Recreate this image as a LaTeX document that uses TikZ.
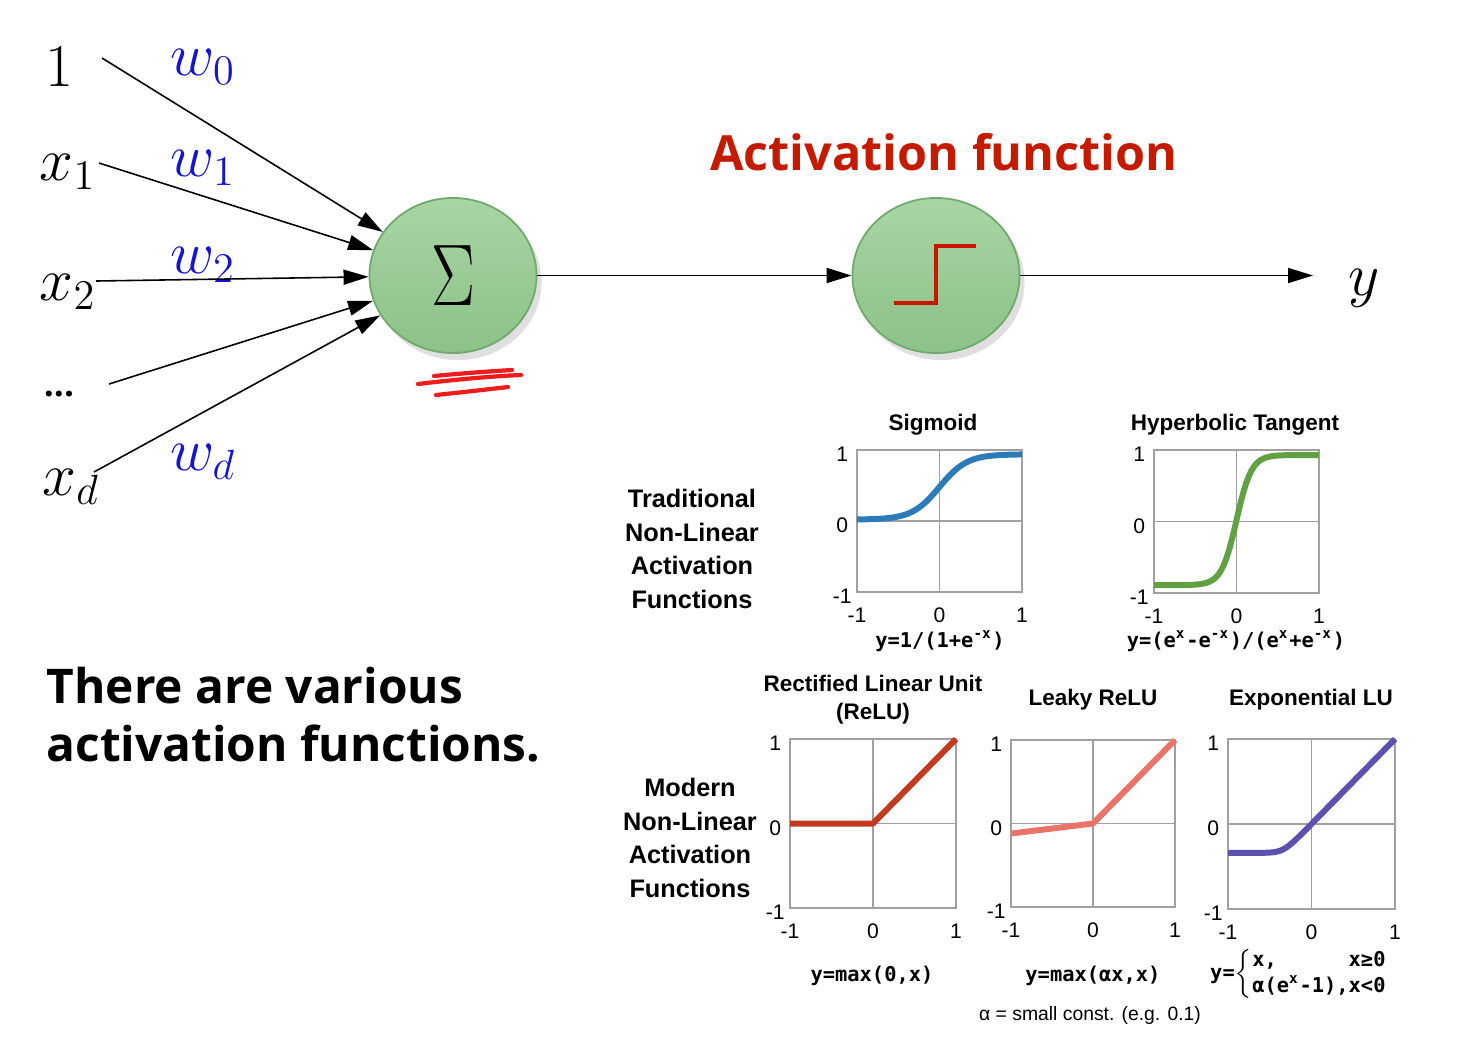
\documentclass[tikz,border=0pt]{standalone}
\usepackage{amsmath}
\usepackage{fontspec}
\setmainfont{Open Sans}
\newfontfamily\plotfont{Liberation Sans}
\newfontfamily\codefont{DejaVu Sans Mono}
\usetikzlibrary{arrows.meta,shapes.geometric,shadows}

\definecolor{wblue}{HTML}{1414D2}
\definecolor{titlered}{HTML}{C41A00}
\definecolor{steprd}{HTML}{CC1500}
\definecolor{scribred}{HTML}{EE1C1C}
\definecolor{nodetop}{HTML}{A9D5A5}
\definecolor{nodebottom}{HTML}{8BC287}
\definecolor{nodeborder}{HTML}{6FA96B}
\definecolor{gridgray}{HTML}{A0A0A0}
\definecolor{sigblue}{HTML}{2B7BB8}
\definecolor{tanhgreen}{HTML}{62A044}
\definecolor{relured}{HTML}{C33A1F}
\definecolor{leakyred}{HTML}{EA7468}
\definecolor{elupurple}{HTML}{5B52B0}

\begin{document}
\begin{tikzpicture}[x=0.01cm, y=-0.01cm, >={Triangle[length=2.5mm,width=1.5mm]},
    conn/.style={->, line width=0.45pt},
    neuron/.style={ellipse, minimum width=1.67cm, minimum height=1.55cm, draw=nodeborder, line width=0.5pt,
        top color=nodetop, bottom color=nodebottom,
        drop shadow={opacity=0.25, shadow xshift=0.5mm, shadow yshift=-0.7mm}},
    inlab/.style={font=\fontsize{17}{20}\selectfont},
    wlab/.style={font=\fontsize{17}{20}\selectfont, text=wblue},
    plotframe/.style={draw=gridgray, line width=0.4pt},
    ticklab/.style={font=\plotfont\fontsize{6}{7}\selectfont, inner sep=0.8pt},
    ptitle/.style={font=\plotfont\bfseries\fontsize{6.4}{8}\selectfont, align=center},
    grouplab/.style={font=\plotfont\bfseries\fontsize{7.2}{9.5}\selectfont, align=center},
    formula/.style={font=\codefont\bfseries\fontsize{5.8}{7.5}\selectfont},
    curve/.style={line width=1.7pt, line join=round},
    squiggle/.style={draw=scribred, line width=1.2pt, line cap=round},
    stepline/.style={draw=steprd, line width=1.2pt},
  ]
    % 背景与边界
    \fill[white] (0,0) rectangle (1468,1050);
    \useasboundingbox (0,0) rectangle (1468,1050);

    % 输入与权重
    \node[inlab] (in0) at (59,67) {$1$};
    \node[inlab] (in1) at (68,172) {$x_1$};
    \node[inlab] (in2) at (68,292) {$x_2$};
    \node[font=\bfseries\fontsize{10}{12}\selectfont] (indots) at (59,394) {...};
    \node[inlab] (ind) at (71,487) {$x_d$};

    \node[wlab] (w0) at (203,67) {$w_0$};
    \node[wlab] (w1) at (203,168) {$w_1$};
    \node[wlab] (w2) at (203,265) {$w_2$};
    \node[wlab] (wd) at (203,462) {$w_d$};

    % 求和节点与激活节点
    \node[neuron] (sum) at (453,275.5) {\fontsize{24}{28}\selectfont\scalebox{0.75}[1]{$\Sigma$}};
    \node[neuron] (act) at (936,275.5) {};
    \draw[stepline] (894,303) -- (936,303) -- (936,246) -- (976,246);
    \node[inlab] (out) at (1364,288) {$y$};

    % 输入连线的起点
    \coordinate (s0) at (102,58);
    \coordinate (s1) at (99,163);
    \coordinate (s2) at (96,281);
    \coordinate (s3) at (109,384);
    \coordinate (s4) at (94,472);
    \foreach \s in {s0,s1,s2,s3,s4} {
        \draw[conn] (\s) -- (sum);
    }
    \draw[conn] (sum) -- (act);
    \draw[conn, shorten >=6.5pt] (act) -- (act -| out.west);

    % 红色手写标记
    \draw[squiggle] (418,384) .. controls (460,379) and (495,376) .. (521,375);
    \draw[squiggle] (434,376) .. controls (465,373) and (495,371) .. (512,370);
    \draw[squiggle] (436,395) .. controls (465,392) and (490,389) .. (508,387);

    % 标题与说明文字
    \node[font=\bfseries\fontsize{13.8}{17}\selectfont, text=titlered, anchor=base] (title) at (944,170) {Activation function};
    \node[font=\bfseries\fontsize{13.6}{16.5}\selectfont, align=left, anchor=north west, inner sep=0pt] (msg)
        at (46,666) {There are various\\activation functions.};

    % 各函数图的边框、坐标轴与刻度
    \foreach \cx/\cy/\hw/\hh [count=\i] in {939.5/521/82.5/71, 1236.5/521.5/82.5/71.5,
            873/823.5/83/84.5, 1093/823.5/82/83.5, 1311.5/824/83.5/85} {
        \begin{scope}[shift={(\cx,\cy)}, xscale=\hw, yscale=-\hh]
            \draw[plotframe] (-1,-1) rectangle (1,1) (-1,0) -- (1,0) (0,-1) -- (0,1);
            \node[ticklab, left=1.5pt, yshift=-1.2pt] (ya\i) at (-1,1) {1};
            \node[ticklab, left=1.5pt, yshift=-1.2pt] (yb\i) at (-1,0) {0};
            \node[ticklab, left=0.5pt, yshift=-1.2pt] (yc\i) at (-1,-1) {-1};
            \node[ticklab, below=3.5pt] (xa\i) at (-1,-1) {-1};
            \node[ticklab, below=3.5pt] (xb\i) at (0,-1) {0};
            \node[ticklab, below=3.5pt] (xc\i) at (1,-1) {1};
        \end{scope}
    }

    % 函数曲线
    \begin{scope}[shift={(939.5,521)}, xscale=82.5, yscale=-71]
        \draw[curve, sigblue] plot[domain=-1:1, samples=60] (\x, {0.02+0.92/(1+exp(-6*\x))});
    \end{scope}
    \begin{scope}[shift={(1236.5,521.5)}, xscale=82.5, yscale=-71.5]
        \draw[curve, tanhgreen] plot[domain=-1:1, samples=60] (\x, {0.02+0.91*tanh(5.5*\x)});
    \end{scope}
    \begin{scope}[shift={(873,823.5)}, xscale=83, yscale=-84.5]
        \draw[curve, relured] (-1,0) -- (0,0) -- (1,1);
    \end{scope}
    \begin{scope}[shift={(1093,823.5)}, xscale=82, yscale=-83.5]
        \draw[curve, leakyred] (-1,-0.12) -- (0,0) -- (1,1);
    \end{scope}
    \begin{scope}[shift={(1311.5,824)}, xscale=83.5, yscale=-85]
        \draw[curve, elupurple] plot[domain=-1:0, samples=50] (\x, {-0.34+0.06*ln(1+exp((\x+0.34)/0.06))}) -- (1,1);
    \end{scope}

    % 图标题
    \node[ptitle, anchor=base] (tsig) at (933,430) {Sigmoid};
    \node[ptitle, anchor=base] (ttanh) at (1235,430) {Hyperbolic Tangent};
    \node[ptitle] (trelu) at (873,700) {Rectified Linear Unit\\(ReLU)};
    \node[ptitle, anchor=base] (tleaky) at (1093,705) {Leaky ReLU};
    \node[ptitle, anchor=base] (telu) at (1311,705) {Exponential LU};

    % 分组说明
    \node[grouplab] (trad) at (692,549) {Traditional\\Non-Linear\\Activation\\Functions};
    \node[grouplab] (modern) at (690,838) {Modern\\Non-Linear\\Activation\\Functions};

    % 公式
    \node[formula, anchor=base] (fsig) at (940,647) {y=1/(1+e\textsuperscript{-x})};
    \node[formula, anchor=base] (ftanh) at (1236,647) {y=(e\textsuperscript{x}-e\textsuperscript{-x})/(e\textsuperscript{x}+e\textsuperscript{-x})};
    \node[formula, anchor=base] (frelu) at (872,981) {y=max(0,x)};
    \node[formula, anchor=base] (fleaky) at (1093,981) {y=max(αx,x)};
    \node[formula] (felu) at (1300,974) {y=$\left\{\begin{tabular}{@{}l@{}r@{}}x,&x≥0\\α(e\textsuperscript{x}-1),&x<0\end{tabular}\right.$};
    \node[font=\plotfont\fontsize{5.5}{7}\selectfont, anchor=base] (anote) at (1090,1020) {α = small const. (e.g. 0.1)};
\end{tikzpicture}
\end{document}
